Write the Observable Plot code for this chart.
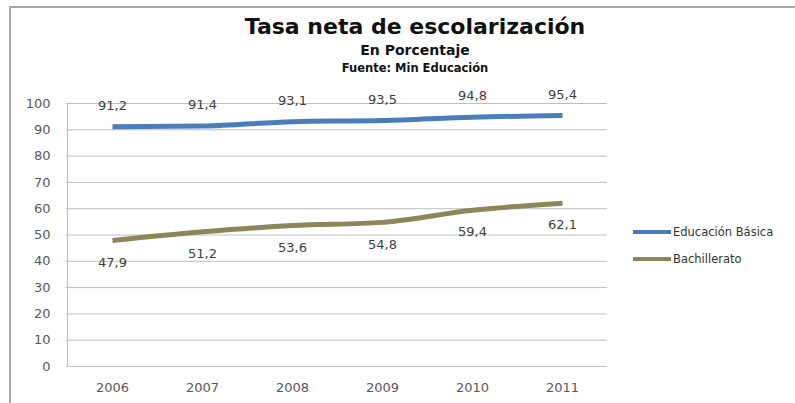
<!DOCTYPE html>
<html>
<head>
<meta charset="utf-8">
<script src="https://cdn.jsdelivr.net/npm/d3@7"></script>
<script src="https://cdn.jsdelivr.net/npm/@observablehq/plot@0.6"></script>
<style>
  html, body { margin: 0; padding: 0; background: #fff; }
  #wrap { position: relative; width: 795px; height: 403px; overflow: hidden; background: #fff; }
  #frame { position: absolute; left: 9px; top: 6px; width: 800px; height: 410px; border-left: 2px solid #a6a6a6; border-top: 2px solid #a6a6a6; box-sizing: border-box; }
  #chart { position: absolute; left: 0; top: 0; }
  .t { position: absolute; left: 215px; width: 400px; text-align: center; font-family: "DejaVu Sans", sans-serif; font-weight: bold; color: #111; white-space: nowrap; }
  #title { top: 14px; font-size: 22px; }
  #sub { top: 42px; font-size: 14px; }
  #src { top: 61px; font-size: 11.5px; }
  .leg { position: absolute; left: 633px; font-family: "DejaVu Sans", sans-serif; font-size: 11.5px; color: #333; white-space: nowrap; display: flex; align-items: center; }
  .leg span.sw { display: inline-block; width: 38px; height: 4px; margin-right: 2px; }
</style>
</head>
<body>
<div id="wrap">
  <div id="frame"></div>
  <div id="chart"></div>
  <div class="t" id="title">Tasa neta de escolarización</div>
  <div class="t" id="sub">En Porcentaje</div>
  <div class="t" id="src">Fuente: Min Educación</div>
  <div id="legend"></div>
</div>
<script>
const years = ["2006", "2007", "2008", "2009", "2010", "2011"];
const seriesNames = ["Educación Básica", "Bachillerato"];
const basica = [91.2, 91.4, 93.1, 93.5, 94.8, 95.4];
const bachillerato = [47.9, 51.2, 53.6, 54.8, 59.4, 62.1];
const yTicks = [0, 10, 20, 30, 40, 50, 60, 70, 80, 90, 100];
const colors = ["#4A7EBB", "#8E8659"];

const data = [];
years.forEach((y, i) => {
  data.push({year: y, value: basica[i], series: seriesNames[0]});
  data.push({year: y, value: bachillerato[i], series: seriesNames[1]});
});
const fmt = v => v.toFixed(1).replace(".", ",");

const plot = Plot.plot({
  width: 795,
  height: 403,
  marginLeft: 66,
  marginRight: 188,
  marginTop: 103,
  marginBottom: 37,
  style: { fontFamily: "DejaVu Sans, sans-serif", fontSize: "13px", color: "#595959", background: "transparent" },
  x: { type: "band", domain: years, padding: 0, label: null },
  y: { domain: [0, 100], ticks: yTicks, label: null },
  color: { domain: seriesNames, range: colors },
  marks: [
    Plot.gridY(yTicks, { stroke: "#bfbfbf", strokeOpacity: 1, strokeWidth: 1 }),
    Plot.ruleX([0], { x: () => years[0], stroke: "#bfbfbf", dx: -45, y1: 0, y2: 100 }),
    Plot.axisY({ ticks: yTicks, tickSize: 0, tickPadding: 16, fontSize: 13, fill: "#595959" }),
    Plot.axisX({ tickSize: 0, tickPadding: 16, fontSize: 13, fill: "#595959" }),
    Plot.line(data, { x: "year", y: "value", z: "series", stroke: "series", strokeWidth: 5, curve: "monotone-x", strokeLinecap: "butt" }),
    Plot.text(data.filter(d => d.series === seriesNames[0]), { x: "year", y: "value", text: d => fmt(d.value), dy: -21, fill: "#404040", fontSize: 13 }),
    Plot.text(data.filter(d => d.series === seriesNames[1]), { x: "year", y: "value", text: d => fmt(d.value), dy: 22, fill: "#404040", fontSize: 13 })
  ]
});
document.getElementById("chart").appendChild(plot);

const legend = document.getElementById("legend");
const legTops = [225, 252];
seriesNames.forEach((name, i) => {
  const row = document.createElement("div");
  row.className = "leg";
  row.style.top = legTops[i] + "px";
  const sw = document.createElement("span");
  sw.className = "sw";
  sw.style.background = colors[i];
  row.appendChild(sw);
  row.appendChild(document.createTextNode(name));
  legend.appendChild(row);
});
</script>
</body>
</html>
